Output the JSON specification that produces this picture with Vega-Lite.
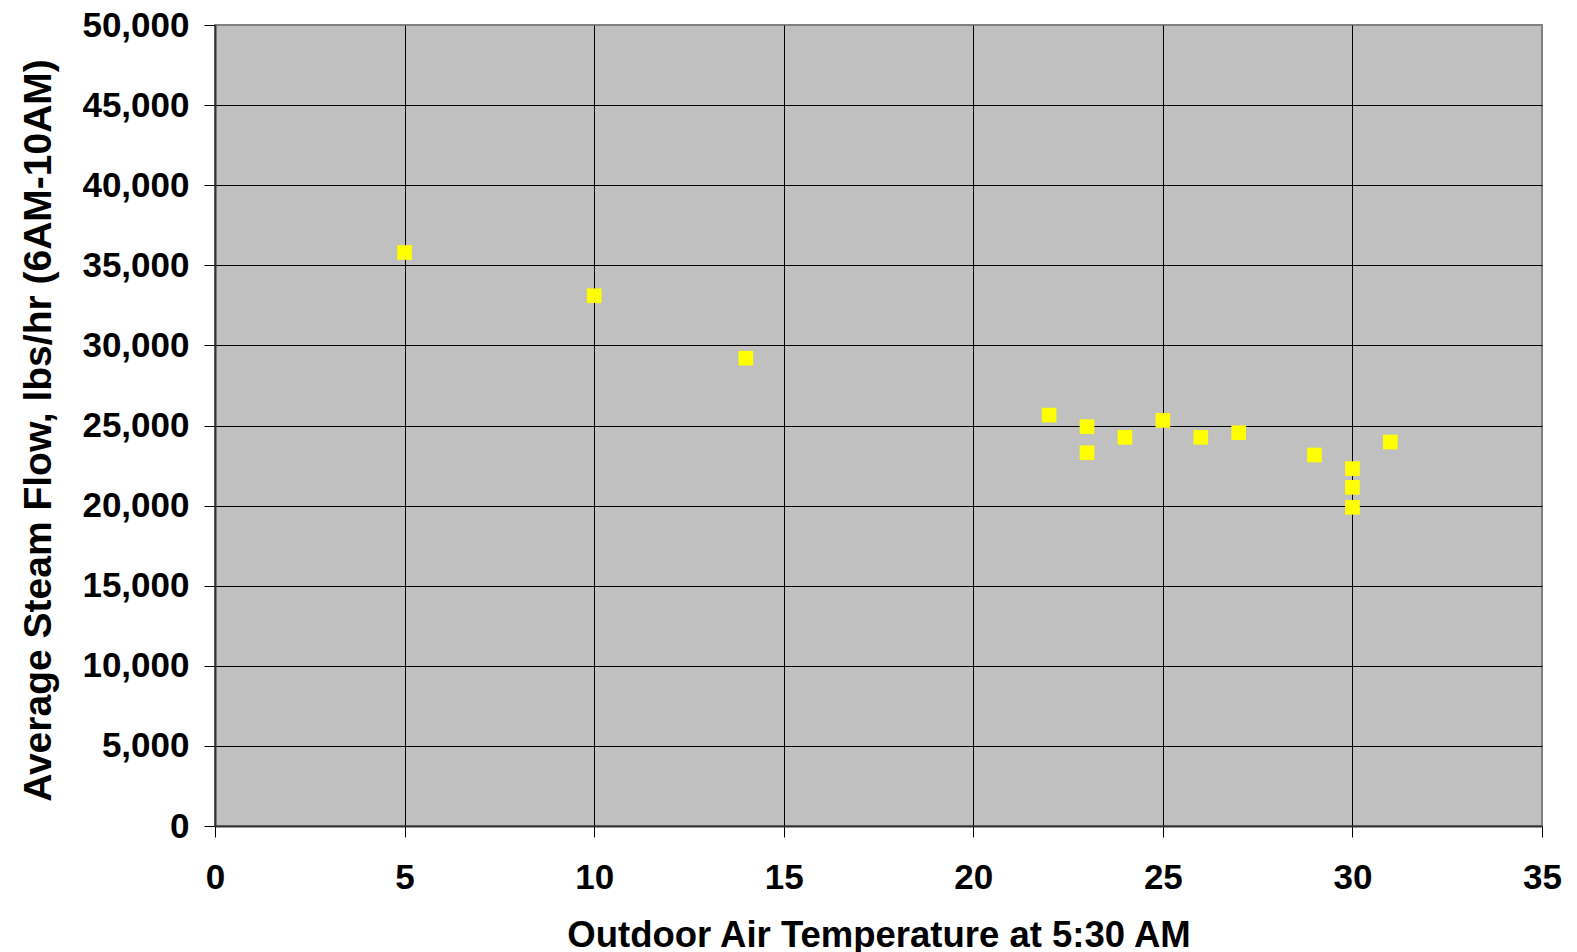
{
  "$schema": "https://vega.github.io/schema/vega-lite/v6.json",
  "width": 1327,
  "height": 801,
  "autosize": {"type": "none"},
  "padding": {"left": 215, "top": 25, "right": 35, "bottom": 126},
  "background": "white",
  "config": {
    "view": {"fill": "#C0C0C0", "stroke": "#808080", "strokeWidth": 2},
    "font": "Liberation Sans"
  },
  "data": {
    "values": [
      {"temp": 5, "flow": 35800},
      {"temp": 10, "flow": 33100},
      {"temp": 14, "flow": 29200},
      {"temp": 22, "flow": 25650},
      {"temp": 23, "flow": 24930},
      {"temp": 23, "flow": 23300},
      {"temp": 24, "flow": 24260},
      {"temp": 25, "flow": 25320},
      {"temp": 26, "flow": 24260},
      {"temp": 27, "flow": 24550},
      {"temp": 29, "flow": 23160},
      {"temp": 30, "flow": 22310},
      {"temp": 30, "flow": 21140},
      {"temp": 30, "flow": 19890},
      {"temp": 31, "flow": 23970}
    ]
  },
  "mark": {"type": "point", "shape": "square", "filled": true, "size": 215, "color": "#FFFF00", "opacity": 1},
  "encoding": {
    "x": {
      "field": "temp",
      "type": "quantitative",
      "scale": {"domain": [0, 35], "nice": false, "zero": false},
      "axis": {
        "values": [0, 5, 10, 15, 20, 25, 30, 35],
        "format": "d",
        "title": "Outdoor Air Temperature at 5:30 AM",
        "titleFont": "Liberation Sans",
        "titleFontSize": 36.5,
        "titleFontWeight": "bold",
        "titleColor": "black",
        "titleBaseline": "alphabetic",
        "titleY": 120,
        "labelFont": "Liberation Sans",
        "labelFontSize": 35,
        "labelFontWeight": "bold",
        "labelColor": "black",
        "labelPadding": 23,
        "labelFlush": false,
        "labelOverlap": false,
        "tickSize": 11,
        "tickColor": "black",
        "tickWidth": 1,
        "domainColor": "#333333",
        "domainWidth": 2,
        "grid": true,
        "gridColor": {"condition": {"test": "datum.value === 35 || datum.value === 0", "value": "transparent"}, "value": "black"},
        "gridWidth": 1,
        "gridOpacity": 1
      }
    },
    "y": {
      "field": "flow",
      "type": "quantitative",
      "scale": {"domain": [0, 50000], "nice": false, "zero": true},
      "axis": {
        "values": [0, 5000, 10000, 15000, 20000, 25000, 30000, 35000, 40000, 45000, 50000],
        "format": ",d",
        "title": "Average Steam Flow, lbs/hr (6AM-10AM)",
        "titleFont": "Liberation Sans",
        "titleFontSize": 39,
        "titleFontWeight": "bold",
        "titleColor": "black",
        "titleBaseline": "alphabetic",
        "titleAngle": -90,
        "titleX": -165,
        "titleY": 405,
        "labelFont": "Liberation Sans",
        "labelFontSize": 35,
        "labelFontWeight": "bold",
        "labelColor": "black",
        "labelPadding": 15,
        "labelFlush": false,
        "labelOverlap": false,
        "labelBaseline": "middle",
        "tickSize": 11,
        "tickColor": "black",
        "tickWidth": 1,
        "domainColor": "#333333",
        "domainWidth": 2,
        "grid": true,
        "gridColor": {"condition": {"test": "datum.value === 50000 || datum.value === 0", "value": "transparent"}, "value": "black"},
        "gridWidth": 1,
        "gridOpacity": 1
      }
    }
  }
}
